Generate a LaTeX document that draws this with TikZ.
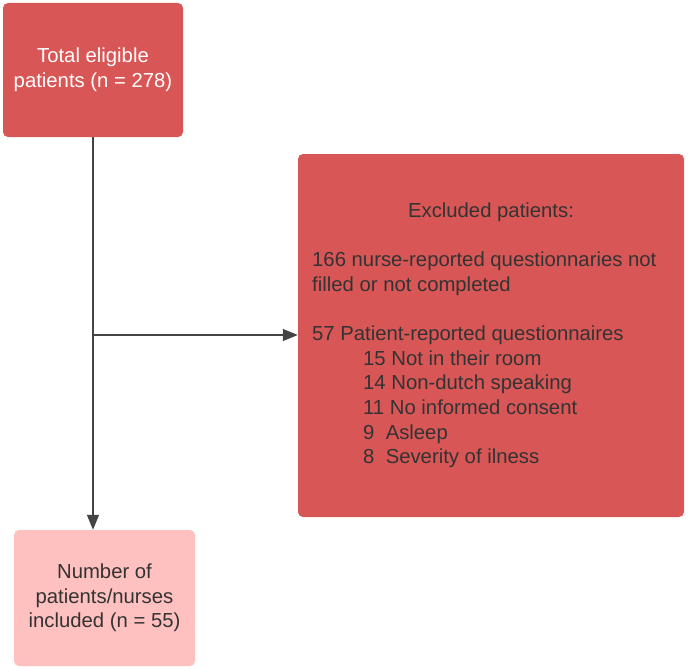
\documentclass[tikz,border=0pt]{standalone}
\usepackage{fontspec}
\setmainfont{Liberation Sans}
\usetikzlibrary{arrows.meta}
\definecolor{boxred}{RGB}{217,86,86}
\definecolor{boxpink}{RGB}{255,192,192}
\definecolor{txtdark}{RGB}{51,51,51}
\definecolor{linegray}{RGB}{68,68,68}
\tikzset{
  box/.style={draw=none, rounded corners=5pt, inner sep=0pt, align=center},
  redbox/.style={box, fill=boxred},
  pinkbox/.style={box, fill=boxpink, text=txtdark},
  bodytext/.style={font=\fontsize{20.3}{24.6}\selectfont},
  conn/.style={draw=linegray, line width=1.4pt, -{Triangle[length=15pt,width=12pt]}},
  plainconn/.style={draw=linegray, line width=1.4pt}
}
\begin{document}
\begin{tikzpicture}[x=1pt,y=-1pt]
\useasboundingbox (0,0) rectangle (688,669);
\node[redbox, minimum width=180pt, minimum height=134pt, text=white, bodytext] (total) at (93,70) {Total eligible\\patients (n = 278)};
\node[redbox, minimum width=386pt, minimum height=363pt] (excl) at (491,335.5) {};
\node[pinkbox, minimum width=181pt, minimum height=136pt, bodytext] (incl) at (104.5,598) {Number of\\patients/nurses\\included (n = 55)};
\node[bodytext, text=txtdark, inner sep=0pt, anchor=base] (title) at (491,217) {Excluded patients:};
\node[bodytext, text=txtdark, inner sep=0pt, anchor=north west, align=left] (reasons) at (312,252) {166 nurse-reported questionnaries not\\filled or not completed\\[24.6pt]57 Patient-reported questionnaires\\
\hspace*{51pt}15 Not in their room\\
\hspace*{51pt}14 Non-dutch speaking\\
\hspace*{51pt}11 No informed consent\\
\hspace*{51pt}9\ \ Asleep\\
\hspace*{51pt}8\ \ Severity of ilness};
\coordinate (junc) at (total.south |- 0,335);
\draw[plainconn] (total.south) -- (junc);
\draw[conn] (junc) -- (excl.west |- junc);
\draw[conn] (junc) -- (total.south |- incl.north);
\end{tikzpicture}
\end{document}
